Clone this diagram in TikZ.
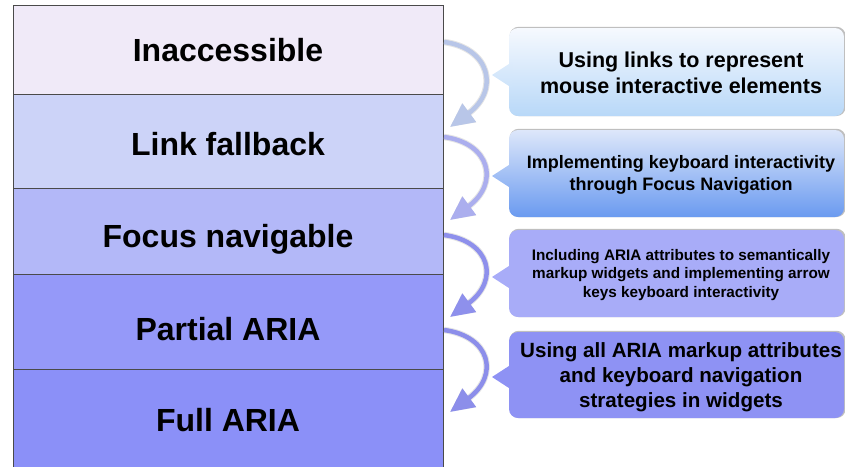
\documentclass[tikz,border=0pt]{standalone}
\usepackage{fontspec}
\setmainfont{Liberation Sans}
\usetikzlibrary{arrows.meta}

% layer fills
\definecolor{rowA}{HTML}{F0EAF8}
\definecolor{rowB}{HTML}{CCD3F8}
\definecolor{rowC}{HTML}{B3B8F8}
\definecolor{rowD}{HTML}{9599F9}
\definecolor{rowE}{HTML}{8B90F8}
\definecolor{rowline}{HTML}{4A4A4A}
% callout fills
\definecolor{boxAtop}{HTML}{F6F9FE}
\definecolor{boxAbot}{HTML}{B8D8F8}
\definecolor{boxBtop}{HTML}{DDE7FA}
\definecolor{boxBbot}{HTML}{6A9AF0}
\definecolor{boxC}{HTML}{A8ACF8}
\definecolor{boxD}{HTML}{8E92F4}
% arrows
\definecolor{arrA}{HTML}{B8C6E8}
\definecolor{arrB}{HTML}{ABAEEE}
\definecolor{arrC}{HTML}{8E90EC}
\definecolor{arrD}{HTML}{8C8EEA}

\tikzset{
  layer/.style={draw=rowline, line width=0.9pt, minimum width=430pt,
    inner sep=0pt},
  levelname/.style={font=\bfseries\fontsize{32}{38}\selectfont},
  callout/.style={rounded corners=9pt, minimum width=335pt, inner sep=0pt},
  calloutrim/.style={fill=black!25, rounded corners=9pt},
  note/.style 2 args={align=center, font=\bfseries\fontsize{#1}{#2}\selectfont},
  flow/.style={line width=4.5pt, -{Triangle[length=24pt,width=22pt]},
    preaction={draw=black, draw opacity=0.10, line width=6.5pt}},
}

\begin{document}
\begin{tikzpicture}[x=1pt,y=1pt]
\useasboundingbox (0,-466) rectangle (845,0);

% stacked maturity levels
\node[layer, fill=rowA, minimum height=89pt] (l1) at (228,-49.5) {};
\node[layer, fill=rowB, minimum height=94pt] (l2) at (228,-141) {};
\node[layer, fill=rowC, minimum height=86pt] (l3) at (228,-231) {};
\node[layer, fill=rowD, minimum height=95pt] (l4) at (228,-321.5) {};
\node[layer, fill=rowE, minimum height=101pt] (l5) at (228,-419.5) {};
\node[levelname] (t1) at (228,-50) {Inaccessible};
\node[levelname] (t2) at (228,-144) {Link fallback};
\node[levelname] (t3) at (228,-239) {Focus navigable};
\node[levelname] (t4) at (228,-329) {Partial ARIA};
\node[levelname] (t5) at (228,-420) {Full ARIA};

% callout shadows
\fill[calloutrim] (509.6,-26.8) rectangle (845.6,-116);
\fill[calloutrim] (509.6,-128.8) rectangle (845.6,-217);
\fill[calloutrim] (509.6,-228.8) rectangle (845.6,-317);
\fill[calloutrim] (509.6,-330.8) rectangle (845.6,-418);

% callout bodies
\node[callout, top color=boxAtop, bottom color=boxAbot, minimum height=88pt] (c1) at (676.5,-72) {};
\node[callout, top color=boxBtop, bottom color=boxBbot, minimum height=87pt] (c2) at (676.5,-173.5) {};
\node[callout, fill=boxC, minimum height=87pt] (c3) at (676.5,-273.5) {};
\node[callout, fill=boxD, minimum height=86pt] (c4) at (676.5,-375) {};

% callout pointers
\shade[top color=boxAbot!40!boxAtop, bottom color=boxAbot!67!boxAtop]
  (512,-62) -- (492,-75) -- (512,-88) -- cycle;
\shade[top color=boxBbot!38!boxBtop, bottom color=boxBbot!68!boxBtop]
  (512,-163) -- (492,-176) -- (512,-189) -- cycle;
\fill[boxC] (512,-264) -- (492,-277) -- (512,-290) -- cycle;
\fill[boxD] (512,-364) -- (492,-377) -- (512,-390) -- cycle;

% callout texts
\node[note={21.5}{26}] (n1) at (681,-73) {Using links to represent\\mouse interactive elements};
\node[note={18}{22}] (n2) at (681,-174.5) {Implementing keyboard interactivity\\through Focus Navigation};
\node[note={15.3}{18.5}] (n3) at (681,-275) {Including ARIA attributes to semantically\\markup widgets and implementing arrow\\keys keyboard interactivity};
\node[note={20.6}{25}] (n4) at (681,-377) {Using all ARIA markup attributes\\and keyboard navigation\\strategies in widgets};

% step arrows between levels
\coordinate (s1) at (444,-42);  \coordinate (e1) at (450,-127);
\coordinate (s2) at (444,-137); \coordinate (e2) at (450,-220);
\coordinate (s3) at (444,-235); \coordinate (e3) at (450,-317);
\coordinate (s4) at (444,-330); \coordinate (e4) at (450,-412);
\draw[flow, draw=arrA] (s1) .. controls +(46,-6) and +(50,37) .. (e1);
\draw[flow, draw=arrB] (s2) .. controls +(46,-6) and +(50,37) .. (e2);
\draw[flow, draw=arrC] (s3) .. controls +(46,-6) and +(50,37) .. (e3);
\draw[flow, draw=arrD] (s4) .. controls +(46,-6) and +(50,37) .. (e4);
\end{tikzpicture}
\end{document}
